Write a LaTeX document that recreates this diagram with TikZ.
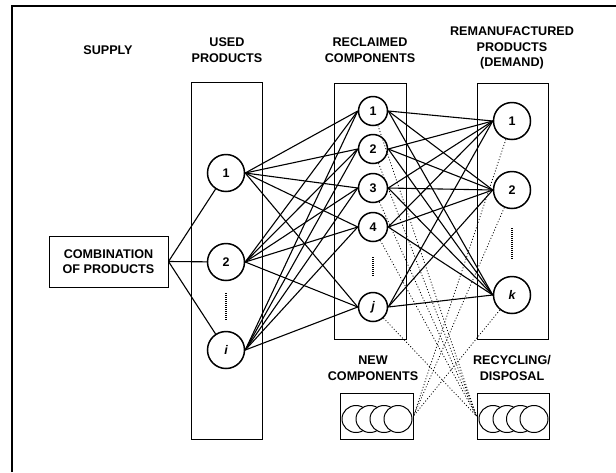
\documentclass[tikz,border=0pt]{standalone}
\usepackage{fontspec}
\setmainfont{Liberation Sans}
\begin{document}
\begin{tikzpicture}[x=1pt,y=-1pt,
  lbl/.style={font=\bfseries\fontsize{12.6}{15.5}\selectfont, align=center, inner sep=0pt},
  bigc/.style={circle, draw, fill=white, line width=1.5pt, minimum size=37pt, inner sep=0pt, font=\bfseries\fontsize{12.5}{14}\selectfont},
  smallc/.style={circle, draw, fill=white, line width=1.5pt, minimum size=29pt, inner sep=0pt, font=\bfseries\fontsize{12.5}{14}\selectfont},
  conn/.style={line width=1.1pt},
  dotc/.style={line width=0.8pt, dash pattern=on 1pt off 2pt},
  vdots/.style={line width=1.8pt, dash pattern=on 1pt off 1pt},
  group/.style={draw, line width=1pt},
  stock/.style={draw, line width=1pt, minimum width=73pt, minimum height=46pt, inner sep=0pt},
  ring/.style={draw, fill=white, line width=1pt}
]
\useasboundingbox (0,0) rectangle (616,472);
% frame
\draw[line width=1.8pt] (12,472) -- (12,6) -- (616,6);

% headings
\node[lbl] (hsup) at (108,50) {SUPPLY};
\node[lbl] (hused) at (227,50) {USED\\PRODUCTS};
\node[lbl] (hrec) at (370,50) {RECLAIMED\\COMPONENTS};
\node[lbl] (hrem) at (512,48) {REMANUFACTURED\\PRODUCTS\\(DEMAND)};
\node[lbl] (hnew) at (373,368) {NEW\\COMPONENTS};
\node[lbl] (hrcy) at (512,368) {RECYCLING/\\DISPOSAL};

% containers
\draw[group] (191,82) rectangle (262,439);
\draw[group] (334,83) rectangle (406,339);
\draw[group] (477,83) rectangle (548,339);

% combination box
\node[draw, line width=1pt, minimum width=119pt, minimum height=51pt, lbl] (comb) at (108.5,261.5) {COMBINATION\\OF PRODUCTS};

% used products
\node[bigc] (u1) at (226,173) {1};
\node[bigc] (u2) at (226,262) {2};
\node[bigc] (ui) at (226,350) {\itshape i};
\draw[vdots] (226,293) -- (226,320);

% reclaimed components
\node[smallc] (r1) at (373,111) {1};
\node[smallc] (r2) at (373,149) {2};
\node[smallc] (r3) at (373,188) {3};
\node[smallc] (r4) at (373,227) {4};
\node[smallc] (rj) at (373,307) {\itshape j};
\draw[vdots] (373,257) -- (373,277);

% remanufactured products
\node[bigc] (m1) at (512,121) {1};
\node[bigc] (m2) at (512,190) {2};
\node[bigc] (mk) at (512,295) {\itshape k};
\draw[vdots] (512,228) -- (512,260);

% stocks
\node[stock] (new) at (376.5,416) {};
\node[stock, minimum width=72pt] (rcy) at (513,416) {};
\foreach \cx in {356,370,384,398} \draw[ring] (\cx,419) ellipse [x radius=14pt, y radius=13.5pt];
\foreach \cx in {493,507,520.5,534} \draw[ring] (\cx,419) ellipse [x radius=14pt, y radius=13.5pt];

% supply to used
\foreach \u in {u1,u2,ui} \draw[conn] (comb.east) -- (\u);

% used to reclaimed
\foreach \u in {u1,u2,ui}
  \foreach \r in {r1,r2,r3,r4,rj}
    \draw[conn] (\u.east) -- (\r.west);

% reclaimed to remanufactured
\foreach \r in {r1,r2,r3,r4,rj}
  \foreach \m in {m1,m2,mk}
    \draw[conn] (\r.east) -- (\m.west);

% dotted flows
\foreach \r in {r1,r2,r3,r4,rj} \draw[dotc] (\r) -- (rcy.west);
\foreach \m in {m1,m2,mk} \draw[dotc] (\m) -- (new.east);
\end{tikzpicture}
\end{document}
